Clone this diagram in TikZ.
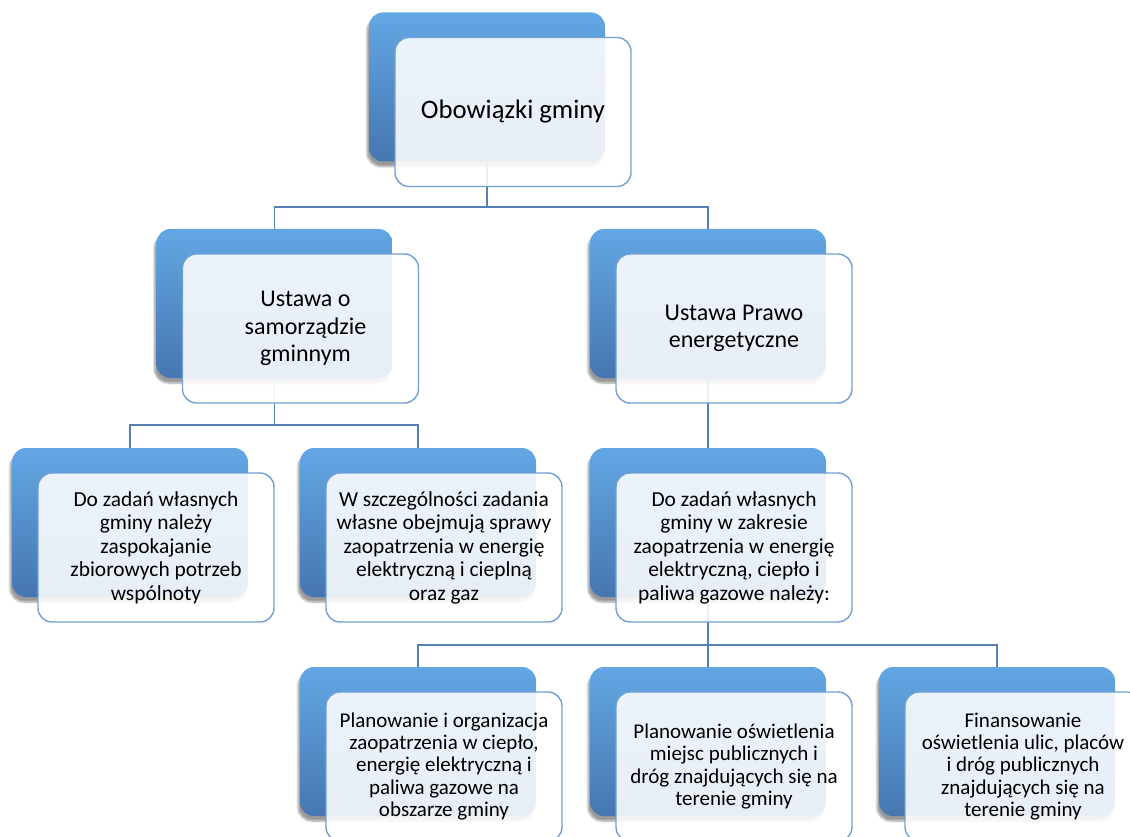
\documentclass[tikz,border=0pt]{standalone}
\usepackage{fontspec}
\setmainfont{Carlito}
\usetikzlibrary{shadows.blur}

\definecolor{backtop}{RGB}{98,167,228}
\definecolor{backbot}{RGB}{70,118,176}
\definecolor{edgeblue}{RGB}{112,160,212}
\definecolor{linkblue}{RGB}{84,128,182}

\tikzset{
  backbox/.style={rounded corners=14pt, minimum width=236pt, minimum height=149pt,
    inner sep=0pt, top color=backtop, bottom color=backbot, draw=none,
    blur shadow={shadow xshift=-2pt, shadow yshift=-5pt, shadow opacity=40, shadow blur steps=6}},
  frontbox/.style={rounded corners=14pt, minimum width=236pt, minimum height=149pt,
    inner sep=2pt, fill=white, fill opacity=0.88, text opacity=1,
    draw=edgeblue, line width=1.4pt, align=center, text=black},
  link/.style={draw=linkblue, line width=1.8pt},
  bigtxt/.style={font=\fontsize{26.7}{32}\selectfont},
  midtxt/.style={font=\fontsize{24}{27.5}\selectfont},
  smalltxt/.style={font=\fontsize{21.4}{23.5}\selectfont},
  tinytxt/.style={font=\fontsize{21}{22.2}\selectfont}
}

\begin{document}
\begin{tikzpicture}[x=1pt,y=-1pt]
\useasboundingbox (0,0) rectangle (1130,837);

% back tiles
\node[backbox] (rootB) at (487,87) {};
\node[backbox] (samB) at (274.5,303.5) {};
\node[backbox] (praB) at (708,303.5) {};
\node[backbox] (aB) at (130,522.5) {};
\node[backbox] (bB) at (418,522.5) {};
\node[backbox] (cB) at (708,522.5) {};
\node[backbox] (dB) at (418,741.5) {};
\node[backbox] (eB) at (708,741.5) {};
\node[backbox] (fB) at (997,741.5) {};

% connectors
\draw[link] (rootB.south) -- ++(0,45) -| (samB.north);
\draw[link] (rootB.south) -- ++(0,45) -| (praB.north);
\draw[link] (samB.south) -- ++(0,47) -| (aB.north);
\draw[link] (samB.south) -- ++(0,47) -| (bB.north);
\draw[link] (praB.south) -- (cB.north);
\draw[link] (cB.south) -- ++(0,48) -| (dB.north);
\draw[link] (cB.south) -- ++(0,48) -| (eB.north);
\draw[link] (cB.south) -- ++(0,48) -| (fB.north);

% front cards with text
\node[frontbox, bigtxt] (root) at (513,112) {Obowiązki gminy};
\node[frontbox, midtxt] (sam) at (300.5,328.5) {\hspace*{10pt}Ustawa o\\\hspace*{10pt}samorządzie\\\hspace*{10pt}gminnym};
\node[frontbox, midtxt] (pra) at (734,328.5) {Ustawa Prawo\\energetyczne};
\node[frontbox, smalltxt] (a) at (156,547.5) {Do zadań własnych\\gminy należy\\zaspokajanie\\zbiorowych potrzeb\\wspólnoty};
\node[frontbox, smalltxt] (b) at (444,547.5) {W szczególności zadania\\własne obejmują sprawy\\zaopatrzenia w energię\\elektryczną i cieplną\\oraz gaz};
\node[frontbox, smalltxt] (c) at (734,547.5) {Do zadań własnych\\gminy w zakresie\\zaopatrzenia w energię\\elektryczną, ciepło i\\paliwa gazowe należy:};
\node[frontbox, tinytxt] (d) at (444,766.5) {Planowanie i organizacja\\zaopatrzenia w ciepło,\\energię elektryczną i\\paliwa gazowe na\\obszarze gminy};
\node[frontbox, tinytxt] (e) at (734,766.5) {Planowanie oświetlenia\\miejsc publicznych i\\dróg znajdujących się na\\terenie gminy};
\node[frontbox, tinytxt] (f) at (1023,766.5) {Finansowanie\\oświetlenia ulic, placów\\i dróg publicznych\\znajdujących się na\\terenie gminy};
\end{tikzpicture}
\end{document}
